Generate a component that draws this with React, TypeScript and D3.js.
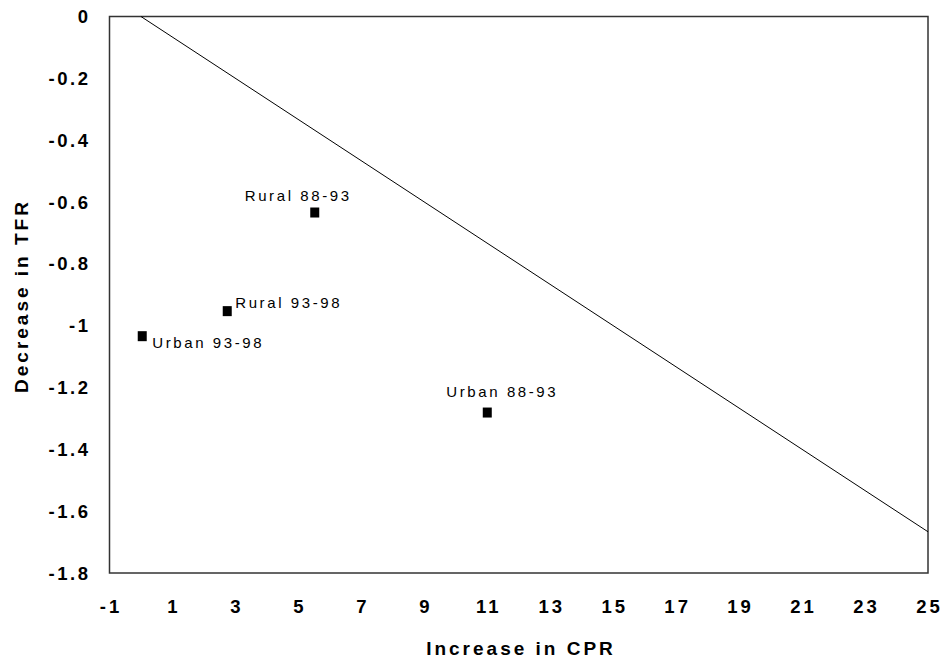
import React from "react";
import * as d3 from "d3";

const labels = ["Rural 88-93", "Rural 93-98", "Urban 93-98", "Urban 88-93"];
const cprIncrease = [5.52, 2.74, 0.04, 11.0];
const tfrDecrease = [-0.634, -0.953, -1.034, -1.281];
// label offsets relative to the marker (dx, dy)
const labelOffsets = [
  [-70, -12],
  [8, -3],
  [10, 12],
  [-41, -16],
];
const xTicks = [-1, 1, 3, 5, 7, 9, 11, 13, 15, 17, 19, 21, 23, 25];
const yTicks = [0, -0.2, -0.4, -0.6, -0.8, -1, -1.2, -1.4, -1.6, -1.8];
const refLine = [
  { x: 0, y: 0 },
  { x: 25, y: -25 / 15 },
];

const width = 943;
const height = 660;
const margin = { top: 16.5, right: 15, bottom: 87, left: 109.5 };

const App = () => {
  const x = d3
    .scaleLinear()
    .domain([-1, 25])
    .range([margin.left, width - margin.right]);
  const y = d3
    .scaleLinear()
    .domain([-1.8, 0])
    .range([height - margin.bottom, margin.top]);

  const line = d3
    .line<{ x: number; y: number }>()
    .x((d) => x(d.x))
    .y((d) => y(d.y));

  const font = "Arial, 'Liberation Sans', sans-serif";

  return (
    <svg
      width={width}
      height={height}
      style={{ position: "absolute", left: 0, top: 0, background: "#fff" }}
      fontFamily={font}
    >
      <rect
        x={x(-1)}
        y={y(0)}
        width={x(25) - x(-1)}
        height={y(-1.8) - y(0)}
        fill="#fff"
        stroke="#333"
        strokeWidth={1.5}
      />
      <path
        d={line(refLine) || ""}
        fill="none"
        stroke="#000"
        strokeWidth={1}
      />

      {yTicks.map((t) => (
        <text
          key={t}
          x={90.5}
          y={y(t)}
          dy="0.36em"
          textAnchor="end"
          fontSize={18.5}
          fontWeight="bold"
          letterSpacing={2.5}
        >
          {d3.format("")(t).replace("−", "-")}
        </text>
      ))}

      {xTicks.map((t) => (
        <text
          key={t}
          x={x(t) + 1.5}
          y={613}
          textAnchor="middle"
          fontSize={18.5}
          fontWeight="bold"
          letterSpacing={3}
        >
          {String(t)}
        </text>
      ))}

      {cprIncrease.map((v, i) => (
        <g key={labels[i]}>
          <rect
            x={x(v) - 4.5}
            y={y(tfrDecrease[i]) - 5}
            width={9}
            height={10}
            fill="#000"
          />
          <text
            x={x(v) + labelOffsets[i][0]}
            y={y(tfrDecrease[i]) + labelOffsets[i][1]}
            fontSize={15}
            letterSpacing={2.6}
          >
            {labels[i]}
          </text>
        </g>
      ))}

      <text
        x={521}
        y={655}
        textAnchor="middle"
        fontSize={19}
        fontWeight="bold"
        letterSpacing={3}
      >
        Increase in CPR
      </text>
      <text
        transform={`translate(28,296) rotate(-90)`}
        textAnchor="middle"
        fontSize={19}
        fontWeight="bold"
        letterSpacing={3}
      >
        Decrease in TFR
      </text>
    </svg>
  );
};

export default App;
